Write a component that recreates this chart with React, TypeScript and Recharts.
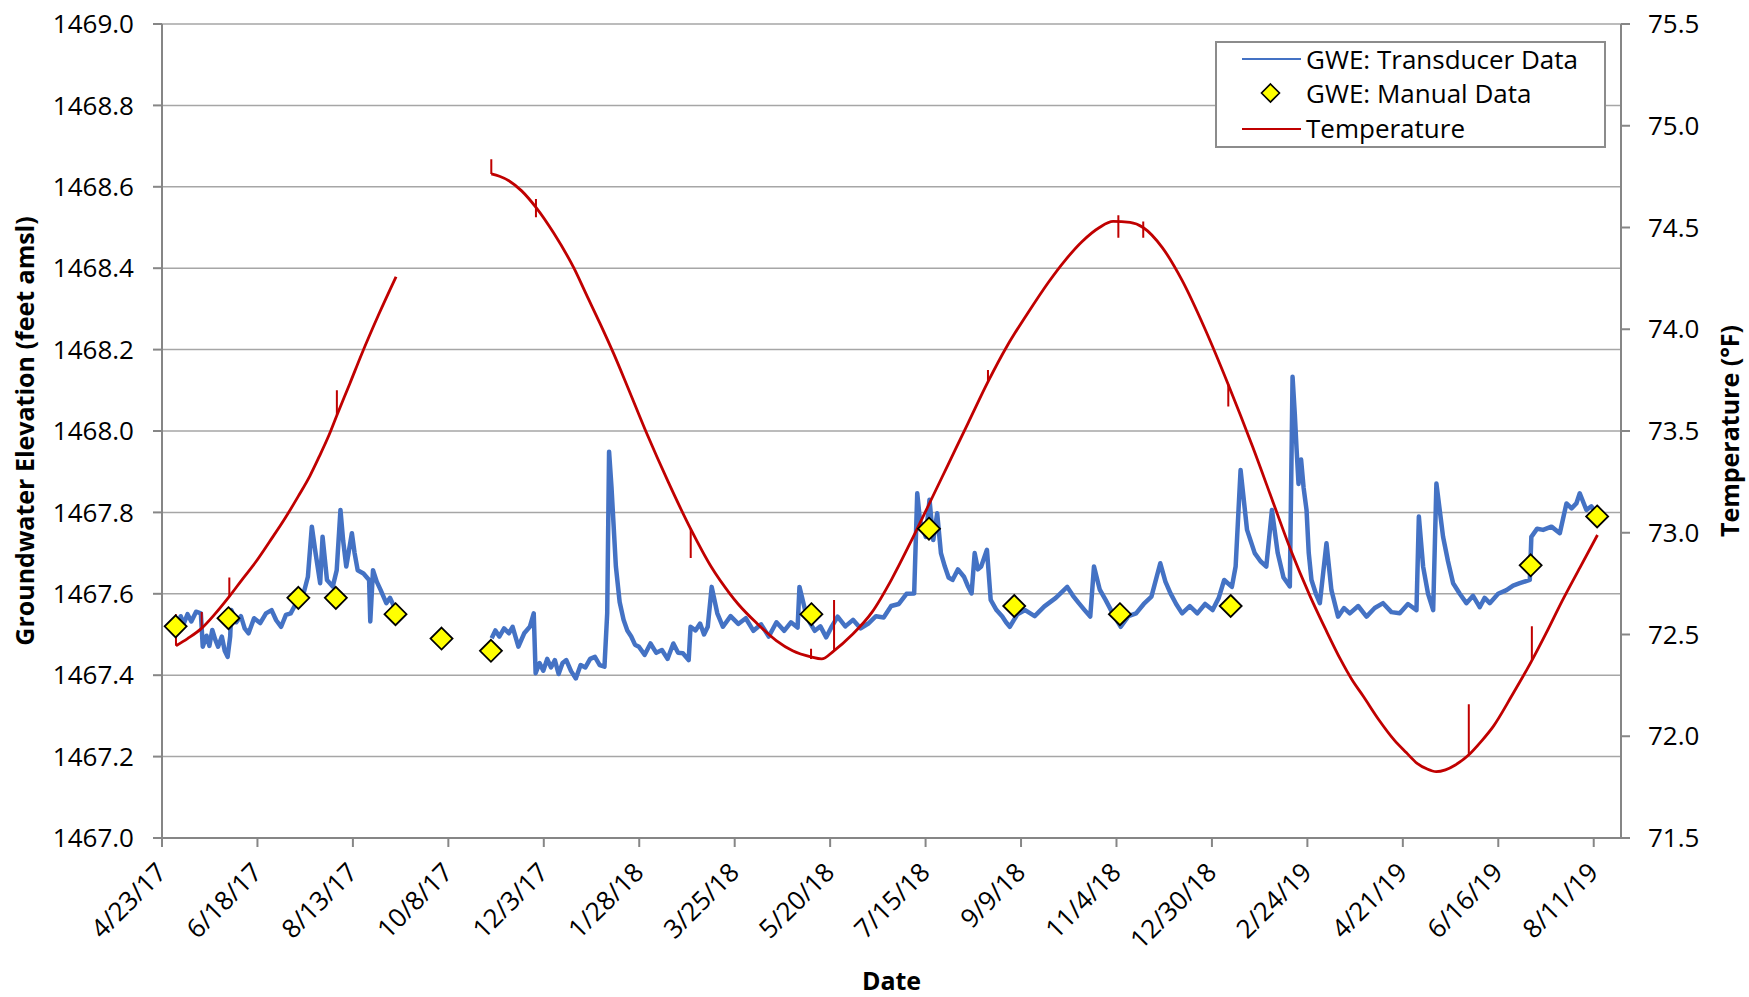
import { ComposedChart, Line, Scatter, XAxis, YAxis, CartesianGrid, Legend } from 'recharts';

const BLUE = '#4472C4';
const RED = '#C00000';
const AXIS_GRAY = '#868686';
const GRID_GRAY = '#A6A6A6';
const FONT = '"Open Sans", sans-serif';

// x axis runs in days since 4/23/17, labelled every 8 weeks
const dateTicks = [
  '4/23/17', '6/18/17', '8/13/17', '10/8/17', '12/3/17', '1/28/18', '3/25/18', '5/20/18',
  '7/15/18', '9/9/18', '11/4/18', '12/30/18', '2/24/19', '4/21/19', '6/16/19', '8/11/19',
];
const TICK_DAYS = 56;
const dayDomain = [0, 856];

const elevTicks = [1467.0, 1467.2, 1467.4, 1467.6, 1467.8, 1468.0, 1468.2, 1468.4, 1468.6, 1468.8, 1469.0];
const tempTicks = [71.5, 72.0, 72.5, 73.0, 73.5, 74.0, 74.5, 75.0, 75.5];

// transducer record [day, ft amsl], first deployment
const transducerA: [number, number][] = [
  [9.3, 1467.519], [11, 1467.545], [12.7, 1467.526], [15, 1467.55], [17.2, 1467.532], [20, 1467.556],
  [22.8, 1467.552], [23.9, 1467.47], [26.1, 1467.497], [27.8, 1467.472], [29.5, 1467.511], [31.2, 1467.488],
  [32.9, 1467.47], [35.1, 1467.495], [36.8, 1467.46], [38.5, 1467.445], [40.0, 1467.495], [40.7, 1467.56],
  [43.5, 1467.53], [46.3, 1467.545], [48.5, 1467.515], [50.8, 1467.503], [54, 1467.54], [57.6, 1467.528],
  [61, 1467.552], [64.3, 1467.56], [67, 1467.535], [69.9, 1467.519], [72.7, 1467.548], [75.5, 1467.552],
  [77.8, 1467.57], [80.0, 1467.585], [83, 1467.6], [85.6, 1467.642], [87.9, 1467.765], [90.1, 1467.7],
  [92.8, 1467.626], [94.2, 1467.74], [96.8, 1467.634], [100.2, 1467.618], [102.5, 1467.658], [104.7, 1467.806],
  [106.3, 1467.73], [108.1, 1467.667], [111.4, 1467.749], [113, 1467.7], [114.8, 1467.658], [118.2, 1467.65],
  [121.5, 1467.634], [122.2, 1467.532], [123.8, 1467.658], [126, 1467.63], [128.3, 1467.609], [131.6, 1467.577],
  [133.8, 1467.59], [136.1, 1467.569],
];

// transducer record [day, ft amsl], second deployment
const transducerB: [number, number][] = [
  [193.4, 1467.491], [195.6, 1467.51], [197.9, 1467.495], [200.7, 1467.515], [203.5, 1467.503], [205.7, 1467.519],
  [209.1, 1467.47], [212.5, 1467.503], [215.8, 1467.519], [218.1, 1467.552], [219.2, 1467.405], [221.5, 1467.43],
  [223.7, 1467.411], [226, 1467.44], [228.2, 1467.419], [230.5, 1467.437], [232.7, 1467.403], [235, 1467.43],
  [237.2, 1467.437], [240, 1467.41], [242.8, 1467.392], [245.6, 1467.425], [248.4, 1467.419], [251.2, 1467.44],
  [254.0, 1467.445], [256.8, 1467.425], [259.6, 1467.421], [261.2, 1467.552], [262.3, 1467.949], [263.7, 1467.863],
  [266.3, 1467.667], [268.5, 1467.58], [270.8, 1467.536], [273, 1467.51], [275.3, 1467.495], [277.5, 1467.475],
  [279.8, 1467.47], [283.2, 1467.45], [286.6, 1467.478], [290, 1467.455], [293.3, 1467.462], [296.6, 1467.44],
  [300.0, 1467.478], [302.8, 1467.455], [305.6, 1467.454], [309.0, 1467.437], [310.1, 1467.519], [313, 1467.51],
  [315.7, 1467.527], [318, 1467.5], [320.2, 1467.519], [322.5, 1467.617], [325.8, 1467.552], [329.1, 1467.519],
  [333.6, 1467.545], [338.1, 1467.526], [342.5, 1467.54], [347.0, 1467.509], [351.5, 1467.525], [356.0, 1467.495],
  [360.5, 1467.53], [365.0, 1467.509], [369, 1467.53], [372.9, 1467.517], [374.0, 1467.617], [377.3, 1467.56],
  [380, 1467.53], [383.0, 1467.509], [386.3, 1467.52], [389.7, 1467.493], [393, 1467.52], [396.4, 1467.544],
  [400.9, 1467.52], [405.4, 1467.536], [409.9, 1467.515], [414.4, 1467.527], [418.9, 1467.545], [423.4, 1467.542],
  [427.8, 1467.57], [432.3, 1467.575], [436.8, 1467.6], [441.3, 1467.601], [443.1, 1467.847], [444.7, 1467.781],
  [448.1, 1467.74], [450.3, 1467.831], [452.5, 1467.732], [454.8, 1467.798], [457, 1467.7], [459.3, 1467.667],
  [461.5, 1467.64], [463.8, 1467.634], [467, 1467.66], [470.5, 1467.642], [472.7, 1467.62], [475.0, 1467.601],
  [476.8, 1467.7], [478.7, 1467.66], [480.6, 1467.667], [484.0, 1467.708], [486.2, 1467.585], [489.6, 1467.56],
  [493.0, 1467.544], [495.2, 1467.53], [497.4, 1467.519], [501.9, 1467.55], [506.4, 1467.56], [512, 1467.545],
  [517.7, 1467.569], [524.4, 1467.59], [531.1, 1467.617], [534.5, 1467.595], [537.9, 1467.577], [541.3, 1467.56],
  [544.6, 1467.544], [546.8, 1467.667], [550.2, 1467.61], [553.6, 1467.585], [558, 1467.55], [562.5, 1467.519],
  [567, 1467.545], [571.5, 1467.552], [576, 1467.575], [580.5, 1467.593], [585.7, 1467.675], [588.7, 1467.63],
  [591.7, 1467.601], [595, 1467.575], [598.5, 1467.552], [603, 1467.57], [607.4, 1467.552], [612, 1467.575],
  [616.4, 1467.56], [620, 1467.59], [623.2, 1467.634], [627.7, 1467.617], [629.9, 1467.667], [632.8, 1467.904],
  [636.6, 1467.757], [641.1, 1467.7], [644.5, 1467.68], [647.9, 1467.667], [651.2, 1467.806], [654.6, 1467.7],
  [658, 1467.64], [661.7, 1467.618], [663.3, 1468.133], [664.6, 1468.043], [665.6, 1467.96], [666.8, 1467.87],
  [668.3, 1467.93], [669.8, 1467.86], [671.5, 1467.806], [672.8, 1467.7], [674.4, 1467.634], [677, 1467.6],
  [679.3, 1467.577], [683.2, 1467.724], [686.1, 1467.609], [690.0, 1467.544],
  [693.5, 1467.565], [696.9, 1467.552], [701.8, 1467.57], [706.7, 1467.544], [711.5, 1467.565], [716.4, 1467.577],
  [721.3, 1467.555], [726.2, 1467.552], [731, 1467.575], [736.0, 1467.56], [737.4, 1467.79], [739.9, 1467.667],
  [742.8, 1467.6], [745.8, 1467.56], [747.7, 1467.871], [751.6, 1467.74], [754.5, 1467.68], [757.5, 1467.626],
  [761.4, 1467.6], [765.3, 1467.577], [769.2, 1467.595], [773.1, 1467.567], [776, 1467.59], [779.0, 1467.577],
  [783.9, 1467.6], [788.8, 1467.609], [792.7, 1467.62], [796.6, 1467.626], [802.5, 1467.634], [803.4, 1467.74],
  [806.8, 1467.76], [810.3, 1467.757], [815.2, 1467.765], [820.1, 1467.749], [824.0, 1467.822], [827, 1467.81],
  [829.8, 1467.822], [831.8, 1467.847], [835.7, 1467.806], [838.6, 1467.815], [841.6, 1467.798],
];

// hand-measured water levels [day, ft amsl]
const manualDays = [8, 39, 80, 102, 137, 164, 193, 381, 450, 500, 562, 627, 803, 842];
const manualFeet = [
  1467.52, 1467.54, 1467.59, 1467.59, 1467.55, 1467.49, 1467.46,
  1467.55, 1467.76, 1467.57, 1467.55, 1467.57, 1467.67, 1467.79,
];

// water temperature [day, °F], logger gap between deployments
const temperatureA: [number, number][] = [
  [8.2, 72.445], [15, 72.48], [23.2, 72.53], [31, 72.6], [39.4, 72.686], [47, 72.77], [55.3, 72.86],
  [63, 72.955], [72.1, 73.07], [80, 73.18], [86.8, 73.28], [92, 73.37], [98, 73.48], [102.5, 73.575],
  [110.3, 73.735], [117, 73.875], [127, 74.07], [137.3, 74.258],
];
const temperatureB: [number, number][] = [
  [193.2, 74.763], [198, 74.752], [203.5, 74.73], [211, 74.68], [219.3, 74.6], [230, 74.47],
  [241.7, 74.3], [249, 74.17], [256.9, 74.03], [265, 73.88], [273, 73.72], [284.3, 73.49], [297, 73.25],
  [310.1, 73.02], [322.4, 72.83], [333.2, 72.7], [338, 72.65], [349, 72.555], [360.4, 72.47], [370, 72.42],
  [380.7, 72.39], [387, 72.38], [394.2, 72.42], [405, 72.5], [416.6, 72.61], [428, 72.77], [439, 72.95],
  [450, 73.14], [461.5, 73.34], [473, 73.54], [484.5, 73.74], [496, 73.92], [508, 74.08], [520, 74.23],
  [530, 74.34], [539.7, 74.43], [550, 74.5], [558, 74.53], [568, 74.525], [575.6, 74.5], [587, 74.4],
  [598.5, 74.24], [612, 74.0], [625.5, 73.73], [640, 73.42], [652.3, 73.14], [662, 72.92], [673.5, 72.69],
  [683, 72.52], [691.6, 72.375], [698, 72.28], [705, 72.194], [714, 72.08], [723, 71.981], [730, 71.92],
  [736.4, 71.867], [742, 71.84], [747.6, 71.826], [753, 71.835], [758.8, 71.859], [766.6, 71.908],
  [774, 71.975], [781.2, 72.05], [792, 72.2], [803.6, 72.37], [812, 72.505], [821.5, 72.665], [832, 72.83],
  [842.2, 72.989],
];
// single-reading temperature excursions [day, low °F, high °F]
const temperatureSpikes: [number, number, number][] = [
  [8.2, 72.445, 72.6], [23.3, 72.53, 72.61], [39.5, 72.686, 72.78], [102.6, 73.58, 73.7],
  [193.2, 74.763, 74.835], [219.4, 74.55, 74.64], [310.2, 72.876, 73.022], [380.8, 72.38, 72.43],
  [394.3, 72.42, 72.67], [484.6, 73.74, 73.8], [561.1, 74.45, 74.56], [575.7, 74.45, 74.53],
  [625.6, 73.62, 73.73], [766.7, 71.908, 72.157], [803.7, 72.37, 72.54],
];

const transducerData = [
  ...transducerA.map(([day, ft]) => ({ day, ft })),
  { day: 165, ft: null },
  ...transducerB.map(([day, ft]) => ({ day, ft })),
];
const manualData = manualDays.map((day, i) => ({ day, ft: manualFeet[i] }));
const temperatureData = [
  ...temperatureA.map(([day, temp]) => ({ day, temp })),
  { day: 165, temp: null },
  ...temperatureB.map(([day, temp]) => ({ day, temp })),
];
const spikeData = temperatureSpikes.flatMap(([day, lo, hi]) => [
  { day, temp: lo },
  { day, temp: hi },
  { day, temp: null },
]);

const Diamond = (props: any) => {
  const { cx, cy } = props;
  const r = 11;
  return (
    <polygon
      points={`${cx},${cy - r} ${cx + r},${cy} ${cx},${cy + r} ${cx - r},${cy}`}
      fill="#FFFF00"
      stroke="#000"
      strokeWidth={1.8}
    />
  );
};

const DateTick = (props: any) => {
  const { x, y, payload } = props;
  const label = dateTicks[Math.round(payload.value / TICK_DAYS)];
  const ax = x + 6;
  const ay = y + 25;
  return (
    <text x={ax} y={ay} transform={`rotate(-45 ${ax} ${ay})`} textAnchor="end" fontSize={26} fontFamily={FONT} fill="#000">
      {label}
    </text>
  );
};

const LegendBox = () => (
  <svg width={391} height={107} style={{ display: 'block' }}>
    <rect x={1} y={1} width={389} height={105} fill="#fff" stroke="#8C8C8C" strokeWidth={2} />
    <line x1={27} x2={86} y1={18} y2={18} stroke={BLUE} strokeWidth={2} />
    <polygon points="55.5,43 64.5,52 55.5,61 46.5,52" fill="#FFFF00" stroke="#000" strokeWidth={1.6} />
    <line x1={27} x2={86} y1={88} y2={88} stroke={RED} strokeWidth={2} />
    <g fontFamily={FONT} fontSize={26} fill="#000" dominantBaseline="central">
      <text x={91} y={18}>GWE: Transducer Data</text>
      <text x={91} y={52}>GWE: Manual Data</text>
      <text x={91} y={87}>Temperature</text>
    </g>
  </svg>
);

const tickStyle = { fill: '#000', fontSize: 26, fontFamily: FONT };

const titleProps = { fontSize: 25, fontWeight: 700, fontFamily: FONT, fill: '#000' };

export default function App() {
  return (
    <div style={{ width: 1749, height: 997, background: '#fff' }}>
      <style>{'body { margin: 0; }'}</style>
      <ComposedChart width={1749} height={997} margin={{ top: 24, right: 0, bottom: 0, left: 0 }} style={{ fontFamily: FONT }}>
        <CartesianGrid yAxisId="elev" vertical={false} stroke={GRID_GRAY} strokeWidth={1.5} />
        <XAxis
          dataKey="day"
          type="number"
          domain={dayDomain}
          allowDataOverflow
          ticks={dateTicks.map((_, i) => i * TICK_DAYS)}
          interval={0}
          height={159}
          tickSize={9}
          axisLine={{ stroke: AXIS_GRAY, strokeWidth: 2 }}
          tickLine={{ stroke: AXIS_GRAY, strokeWidth: 2 }}
          tick={DateTick}
          label={{
            content: () => (
              <text x={891.5} y={990} textAnchor="middle" {...titleProps}>
                Date
              </text>
            ),
          }}
        />
        <YAxis
          yAxisId="elev"
          orientation="left"
          width={162}
          domain={[1467, 1469]}
          ticks={elevTicks}
          interval={0}
          tickSize={9}
          tickMargin={19}
          tickFormatter={(v: number) => v.toFixed(1)}
          axisLine={{ stroke: AXIS_GRAY, strokeWidth: 2 }}
          tickLine={{ stroke: AXIS_GRAY, strokeWidth: 2 }}
          tick={tickStyle}
          label={{
            content: () => (
              <text x={24} y={431} transform="rotate(-90 24 431)" textAnchor="middle" dominantBaseline="central" {...titleProps}>
                Groundwater Elevation (feet amsl)
              </text>
            ),
          }}
        />
        <YAxis
          yAxisId="temp"
          orientation="right"
          width={128}
          domain={[71.5, 75.5]}
          ticks={tempTicks}
          interval={0}
          tickSize={9}
          tickMargin={18}
          tickFormatter={(v: number) => v.toFixed(1)}
          axisLine={{ stroke: AXIS_GRAY, strokeWidth: 2 }}
          tickLine={{ stroke: AXIS_GRAY, strokeWidth: 2 }}
          tick={tickStyle}
          label={{
            content: () => (
              <text x={1729} y={431} transform="rotate(-90 1729 431)" textAnchor="middle" dominantBaseline="central" {...titleProps}>
                Temperature (°F)
              </text>
            ),
          }}
        />
        <Line
          yAxisId="elev"
          data={transducerData}
          dataKey="ft"
          name="GWE: Transducer Data"
          type="linear"
          stroke={BLUE}
          strokeWidth={4.5}
          strokeLinejoin="round"
          dot={false}
          activeDot={false}
          isAnimationActive={false}
        />
        <Scatter
          yAxisId="elev"
          data={manualData}
          dataKey="ft"
          name="GWE: Manual Data"
          shape={Diamond}
          isAnimationActive={false}
        />
        <Line
          yAxisId="temp"
          data={temperatureData}
          dataKey="temp"
          name="Temperature"
          type="monotone"
          stroke={RED}
          strokeWidth={2.8}
          dot={false}
          activeDot={false}
          isAnimationActive={false}
        />
        <Line
          yAxisId="temp"
          data={spikeData}
          dataKey="temp"
          legendType="none"
          type="linear"
          stroke={RED}
          strokeWidth={2}
          dot={false}
          activeDot={false}
          isAnimationActive={false}
        />
        <Legend
          layout="horizontal"
          verticalAlign="middle"
          align="center"
          content={LegendBox}
          wrapperStyle={{ left: 1215, top: 41, width: 391, height: 107 }}
        />
      </ComposedChart>
    </div>
  );
}
